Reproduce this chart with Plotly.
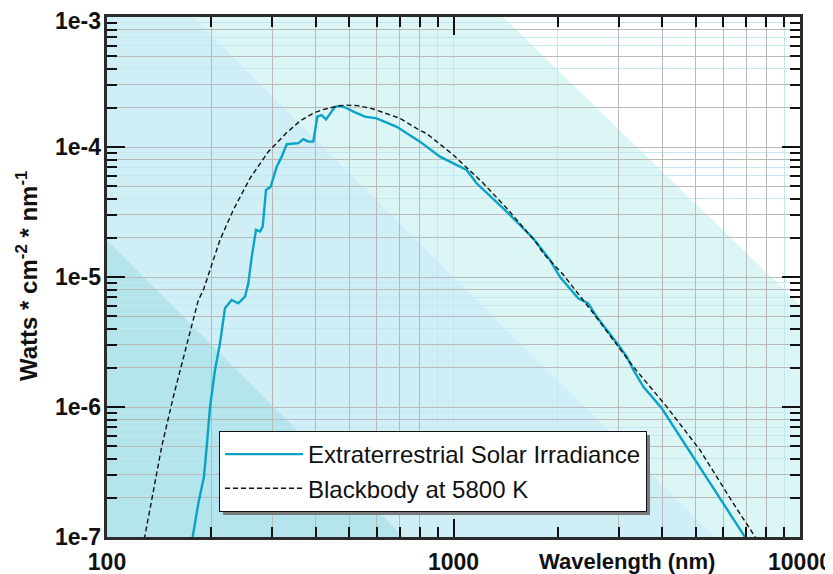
import plotly.graph_objects as go

# ---------------- data ----------------
wl_solar = [175, 176.7, 183.5, 190.5, 194, 198.3, 205, 211.9, 219, 229, 239.3, 250.2,
            255.8, 258.6, 261.6, 269.2, 276.5, 281.4, 287.7, 296.8, 308.9, 319.3,
            330.1, 356.6, 368.7, 381.1, 393.9, 404.6, 416.5, 428.6, 445.2, 455,
            470, 486, 514, 555, 600, 686, 800, 914, 999, 1091, 1166, 1423, 1700,
            1900, 2030, 2291, 2449, 2590, 2990, 3162, 3305, 3532, 3990, 4508, 5035,
            6011, 6937, 7050]
irr_solar = [9.0e-8, 1.0e-7, 1.82e-7, 2.91e-7, 4.95e-7, 1.0e-6, 1.93e-6, 3.09e-6,
             5.74e-6, 6.65e-6, 6.27e-6, 7.06e-6, 8.94e-6, 1.13e-5, 1.43e-5, 2.30e-5,
             2.24e-5, 2.44e-5, 4.67e-5, 4.95e-5, 7.06e-5, 8.43e-5, 1.05e-4, 1.07e-4,
             1.15e-4, 1.10e-4, 1.10e-4, 1.71e-4, 1.76e-4, 1.63e-4, 1.87e-4, 2.04e-4,
             2.07e-4, 2.02e-4, 1.87e-4, 1.71e-4, 1.66e-4, 1.43e-4, 1.10e-4, 8.43e-5,
             7.49e-5, 6.65e-5, 5.26e-5, 3.18e-5, 1.98e-5, 1.35e-5, 1.0e-5, 6.86e-6,
             6.27e-6, 4.95e-6, 3.0e-6, 2.44e-6, 1.93e-6, 1.43e-6, 9.77e-7, 5.91e-7,
             3.69e-7, 1.82e-7, 1.0e-7, 9.0e-8]

wl_bb = [125, 128.8, 134.6, 143.8, 155.4, 168, 183.5, 189.6, 198.3, 211.9, 231.5,
         258.6, 292.1, 330.1, 360, 393.9, 420, 440, 470.3, 491.7, 530, 587, 701,
         800, 836.5, 998.9, 1219, 1439, 1738, 1816, 2075, 2533, 3304, 4122, 5143,
         6416, 7413, 7700]
irr_bb = [7.3e-8, 1.04e-7, 1.93e-7, 4.95e-7, 1.2e-6, 2.74e-6, 6.65e-6, 7.9e-6,
          1.13e-5, 1.93e-5, 3.28e-5, 5.74e-5, 9.2e-5, 1.29e-4, 1.58e-4, 1.82e-4,
          1.94e-4, 2.0e-4, 2.08e-4, 2.10e-4, 2.08e-4, 1.96e-4, 1.66e-4, 1.34e-4,
          1.27e-4, 8.68e-5, 5.26e-5, 3.28e-5, 1.82e-5, 1.52e-5, 1.04e-5, 5.26e-6,
          2.04e-6, 1.006e-6, 4.67e-7, 1.82e-7, 1.0e-7, 8.6e-8]

series_names = ["Extraterrestrial Solar Irradiance", "Blackbody at 5800 K"]

x_tick_vals = [100, 1000, 10000]
x_tick_text = ["100", "1000", "10000"]
y_tick_vals = [1e-7, 1e-6, 1e-5, 1e-4]
y_tick_text = ["1e-7", "1e-6", "1e-5", "1e-4"]
y_top_val = [1e-3]
y_top_text = ["1e-3"]

x_title = "Wavelength (nm)"
y_title = "Watts * cm<sup>-2</sup> * nm<sup>-1</sup>"

# tick / grid positions
def dec(k_lo, k_hi, mults):
    return [m * 10 ** k for k in range(k_lo, k_hi) for m in mults]

x_minor = dec(2, 4, range(2, 10))
x_grid_gray = dec(2, 3, range(2, 9)) + dec(3, 4, range(3, 9))
x_grid_cyan = [900, 1000, 2000, 9000]
y_minor = dec(-7, -3, range(2, 10))
y_grid_gray = dec(-7, -3, [1, 2, 3, 5, 8])
y_grid_cyan = dec(-7, -3, [4, 6, 7, 9])

FONT = "Liberation Sans, Arial, Helvetica, sans-serif"
CYAN = "#0aa3c8"
TICKFONT = dict(family=FONT, size=23, color="#111111", weight="bold")

fig = go.Figure()
fig.add_trace(go.Scatter(x=wl_solar, y=irr_solar, mode="lines", name=series_names[0],
                         line=dict(color=CYAN, width=2.4)))
fig.add_trace(go.Scatter(x=wl_bb, y=irr_bb, mode="lines", name=series_names[1],
                         line=dict(color="#111111", width=1.4, dash="5px,3px")))
# carriers for the overlay axes (grid axes and y label axes)
for xa, ya in [("x2", "y2"), ("x", "y3"), ("x", "y4")]:
    fig.add_trace(go.Scatter(x=[None], y=[None], xaxis=xa, yaxis=ya, showlegend=False,
                             hoverinfo="skip"))

# plot area in window pixels: x 107..800, y 17..537
PX0, PX1, PY0, PY1 = 107, 800, 17, 537


def px(xw):
    return (xw - PX0) / (PX1 - PX0)


def py(yw):
    return (PY1 - yw) / (PY1 - PY0)


# diagonal background bands (paper coordinates of the plot area)
bands = [
    ("#dcf6f6", "M 0.1241 1 L 0.5714 1 L 1 0.4462 L 1 0 L 0.8773 0 Z"),
    ("#cfeef6", "M 0 1 L 0.1241 1 L 0.8773 0 L 0.4286 0 L 0 0.5712 Z"),
    ("#b5e5ec", "M 0 0.5712 L 0.4286 0 L 0 0 Z"),
]
shapes = []
for col, path in bands:
    shapes.append(dict(type="path", xref="paper", yref="paper", path=path,
                       fillcolor=col, line=dict(width=0), layer="below"))
# legend drop shadow
shapes.append(dict(type="rect", xref="paper", yref="paper",
                   x0=px(223), x1=px(650), y0=py(515), y1=py(435),
                   fillcolor="#7a7a7a", line=dict(width=0), layer="above"))

axis_common = dict(type="log", showline=True, linewidth=3, linecolor="#2b2b2b",
                   mirror="ticks", ticks="inside", ticklen=18, tickwidth=2,
                   tickcolor="#111111", showgrid=False, zeroline=False, automargin=False,
                   ticklabeloverflow="allow", tickfont=TICKFONT)
grid_common = dict(type="log", automargin=False, showline=False, ticks="",
                   showticklabels=False, zeroline=False, tickmode="array",
                   showgrid=True, gridcolor="#b9b9b9", gridwidth=1)
label_common = dict(type="log", range=[-7, -3], overlaying="y", anchor="free",
                    position=0, side="left", automargin=False, showline=False,
                    ticks="", showgrid=False, zeroline=False, tickmode="array",
                    tickfont=TICKFONT, ticklabelstandoff=6, ticklabeloverflow="allow")

# the page body has an 8px margin, so the figure is offset by (8, 8) in the window
fig.update_layout(
    width=825, height=566,
    margin=dict(l=99, r=33, t=9, b=37, autoexpand=False),
    paper_bgcolor="white", plot_bgcolor="rgba(0,0,0,0)",
    showlegend=True,
    xaxis=dict(**axis_common, range=[2, 4], tickmode="array", tickvals=x_tick_vals,
               ticktext=x_tick_text, ticklabelstandoff=2,
               minor=dict(tickmode="array", tickvals=x_minor, ticks="inside",
                          ticklen=10, tickwidth=2, tickcolor="#111111", showgrid=False)),
    yaxis=dict(**axis_common, range=[-7, -3], tickmode="array",
               tickvals=y_tick_vals + y_top_val, showticklabels=False,
               minor=dict(tickmode="array", tickvals=y_minor, ticks="inside",
                          ticklen=10, tickwidth=2, tickcolor="#111111", showgrid=False)),
    yaxis3=dict(**label_common, tickvals=y_tick_vals, ticktext=y_tick_text),
    yaxis4=dict(**label_common, tickvals=y_top_val, ticktext=y_top_text,
                ticklabelshift=4),
    xaxis2=dict(**grid_common, range=[2, 4], overlaying="x", anchor="y2",
                tickvals=x_grid_gray,
                minor=dict(tickmode="array", tickvals=x_grid_cyan, showgrid=True,
                           gridcolor="#c2e8f1", gridwidth=1, ticks="")),
    yaxis2=dict(**grid_common, range=[-7, -3], overlaying="y", anchor="x2", side="left",
                tickvals=y_grid_gray,
                minor=dict(tickmode="array", tickvals=y_grid_cyan, showgrid=True,
                           gridcolor="#c2e8f1", gridwidth=1, ticks="")),
    legend=dict(x=px(219), y=py(431), xanchor="left", yanchor="top",
                bgcolor="white", bordercolor="#111111", borderwidth=1,
                font=dict(family=FONT, size=24, color="#111111"),
                itemwidth=78, tracegroupgap=0),
    shapes=shapes,
    annotations=[
        dict(text="<b>" + x_title + "</b>", xref="paper", yref="paper",
             x=px(627), y=py(561), xanchor="center", yanchor="middle", showarrow=False,
             font=dict(family=FONT, size=22, color="#111111")),
        dict(text="<b>" + y_title + "</b>", xref="paper", yref="paper",
             x=px(27), y=py(276), xanchor="center", yanchor="middle", showarrow=False,
             textangle=-90, font=dict(family=FONT, size=24, color="#111111")),
    ],
)

fig.write_html("out.html")
